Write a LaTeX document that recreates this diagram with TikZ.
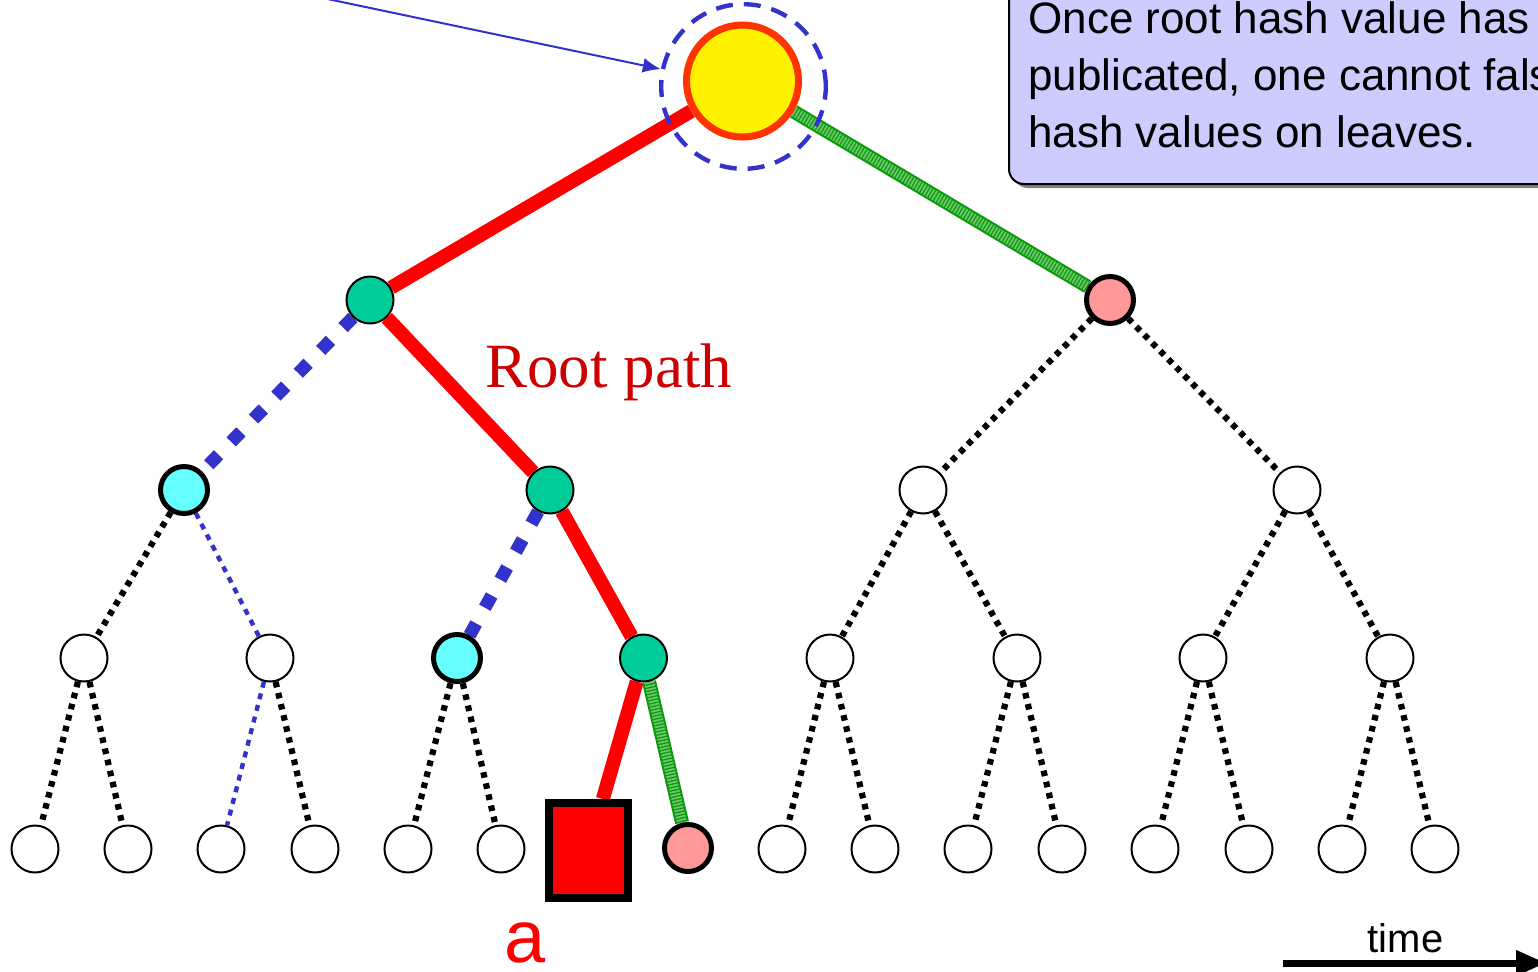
\documentclass[tikz,border=0pt]{standalone}
\usepackage{fontspec}
\newfontfamily\arialish{Liberation Sans}
\newfontfamily\timesish{Liberation Serif}
\usetikzlibrary{arrows.meta}

\definecolor{linkblue}{HTML}{3333CC}
\definecolor{nodegreen}{HTML}{00CC99}
\definecolor{nodecyan}{HTML}{66FFFF}
\definecolor{nodepink}{HTML}{FF9999}
\definecolor{rootring}{HTML}{FF3300}
\definecolor{notefill}{HTML}{CCCCFF}
\definecolor{notedrop}{HTML}{808080}
\definecolor{pathred}{HTML}{CC0000}
\definecolor{hashgreen}{HTML}{089A08}
\definecolor{hashlight}{HTML}{6CC66C}

\pgfdeclarelayer{edges}
\pgfsetlayers{edges,main}

\tikzset{
  hnode/.style={circle, draw=black, line width=1pt, fill=white,
                minimum size=23.5pt, inner sep=0pt},
  gnode/.style={hnode, fill=nodegreen},
  cnode/.style={circle, draw=black, line width=2.5pt, fill=nodecyan,
                minimum size=23.5pt, inner sep=0pt},
  pnode/.style={cnode, fill=nodepink},
  rootnode/.style={circle, draw=rootring, line width=3.5pt, fill=yellow,
                minimum size=56pt, inner sep=0pt},
  halo/.style={circle, draw=linkblue, line width=2.2pt,
                dash pattern=on 8.5pt off 5.5pt, minimum size=82.3pt, inner sep=0pt},
  docbox/.style={rectangle, draw=black, line width=4pt, fill=red,
                minimum width=39.5pt, minimum height=47.5pt, inner sep=0pt},
  redpath/.style={draw=red, line width=7pt},
  greenpath/.style={draw=hashgreen, line width=7pt,
                postaction={draw=hashlight, line width=5pt, dash pattern=on 0.9pt off 0.7pt}},
  bluedash/.style={draw=linkblue, line width=6.5pt, dash pattern=on 7pt off 9pt},
  bluedot/.style={draw=linkblue, line width=2.2pt, dash pattern=on 3pt off 3pt},
  blackdot/.style={draw=black, line width=3.1pt, dash pattern=on 2.8pt off 2.9pt},
  notetext/.style={font=\arialish\fontsize{22pt}{28.5pt}\selectfont, align=left, inner sep=0pt},
}

\begin{document}
\begin{tikzpicture}[x=0.5pt, y=-0.5pt]
\useasboundingbox (0,0) rectangle (1538,971);
\clip (0,0) rectangle (1538,971);

% explanatory note in the upper right corner
\fill[notedrop, rounded corners=7.5pt] (1013,-40) rectangle (1700,188);
\filldraw[fill=notefill, draw=black, line width=1pt, rounded corners=7.5pt]
  (1009,-40) rectangle (1700,184);
\node[notetext, anchor=north west] (note) at (1028,1)
  {Once root hash value has been\\publicated, one cannot falsify\\hash values on leaves.};

% root of the hash tree
\node[rootnode] (root) at (742.5,81) {};
\node[halo] (rhalo) at (743.5,86.5) {};

% level 1
\node[gnode] (g1) at (370,300) {};
\node[pnode] (p1) at (1110,300) {};

% level 2
\node[cnode] (c2)  at (184,490) {};
\node[gnode] (g2)  at (550,490) {};
\node[hnode] (w2a) at (923,490) {};
\node[hnode] (w2b) at (1297,490) {};

% level 3
\node[hnode] (n3a) at (84,658) {};
\node[hnode] (n3b) at (270,658) {};
\node[cnode] (c3)  at (457,658) {};
\node[gnode] (g3)  at (643.5,658) {};
\node[hnode] (n3e) at (830,658) {};
\node[hnode] (n3f) at (1017,658) {};
\node[hnode] (n3g) at (1203,658) {};
\node[hnode] (n3h) at (1390,658) {};

% leaves
\node[hnode] (l1)  at (35,849) {};
\node[hnode] (l2)  at (128,849) {};
\node[hnode] (l3)  at (221,849) {};
\node[hnode] (l4)  at (315,849) {};
\node[hnode] (l5)  at (408,849) {};
\node[hnode] (l6)  at (501,849) {};
\node[docbox] (sq) at (588,850.5) {};
\node[pnode] (l8)  at (688,848) {};
\node[hnode] (l9)  at (782,849) {};
\node[hnode] (l10) at (875,849) {};
\node[hnode] (l11) at (968,849) {};
\node[hnode] (l12) at (1062,849) {};
\node[hnode] (l13) at (1155,849) {};
\node[hnode] (l14) at (1249,849) {};
\node[hnode] (l15) at (1342,849) {};
\node[hnode] (l16) at (1435,849) {};

% tree edges, kept underneath the nodes
\begin{pgfonlayer}{edges}
  \draw[redpath]   (root) -- (g1);
  \draw[greenpath] (root) -- (p1);
  \draw[bluedash]  (g1) -- (c2);
  \draw[redpath]   (g1) -- (g2);
  \draw[blackdot]  (p1) -- (w2a);
  \draw[blackdot]  (p1) -- (w2b);

  \draw[blackdot]  (c2) -- (n3a);
  \draw[bluedot]   (c2) -- (n3b);
  \draw[bluedash]  (g2) -- (c3);
  \draw[redpath]   (g2) -- (g3);
  \draw[blackdot]  (w2a) -- (n3e);
  \draw[blackdot]  (w2a) -- (n3f);
  \draw[blackdot]  (w2b) -- (n3g);
  \draw[blackdot]  (w2b) -- (n3h);

  \draw[blackdot]  (n3a) -- (l1);
  \draw[blackdot]  (n3a) -- (l2);
  \draw[bluedot]   (n3b) -- (l3);
  \draw[blackdot]  (n3b) -- (l4);
  \draw[blackdot]  (c3) -- (l5);
  \draw[blackdot]  (c3) -- (l6);
  \draw[redpath]   (g3) -- (sq);
  \draw[greenpath] (g3) -- (l8);
  \draw[blackdot]  (n3e) -- (l9);
  \draw[blackdot]  (n3e) -- (l10);
  \draw[blackdot]  (n3f) -- (l11);
  \draw[blackdot]  (n3f) -- (l12);
  \draw[blackdot]  (n3g) -- (l13);
  \draw[blackdot]  (n3g) -- (l14);
  \draw[blackdot]  (n3h) -- (l15);
  \draw[blackdot]  (n3h) -- (l16);
\end{pgfonlayer}

% pointer to the root
\coordinate (ptrstart) at (318,-3);
\draw[draw=linkblue, line width=1pt, -{Latex[length=9pt,width=7.5pt]}] (ptrstart) -- (rhalo);

% labels
\node[font=\timesish\fontsize{31.5pt}{36pt}\selectfont, text=pathred,
      anchor=base west, inner sep=0pt] (rootpath) at (485,387) {Root path};
\node[font=\arialish\fontsize{37pt}{40pt}\selectfont, text=red,
      anchor=base, inner sep=0pt] (alabel) at (525.5,962) {a};

% time axis
\coordinate (tstart) at (1283,963);
\coordinate (tend) at (1546,963);
\draw[line width=3.5pt, -{Triangle[length=15pt,width=12pt]}] (tstart) -- (tend);
\node[font=\arialish\fontsize{20pt}{24pt}\selectfont,
      anchor=base, inner sep=0pt] (timelabel) at (1405.5,952) {time};
\end{tikzpicture}
\end{document}
